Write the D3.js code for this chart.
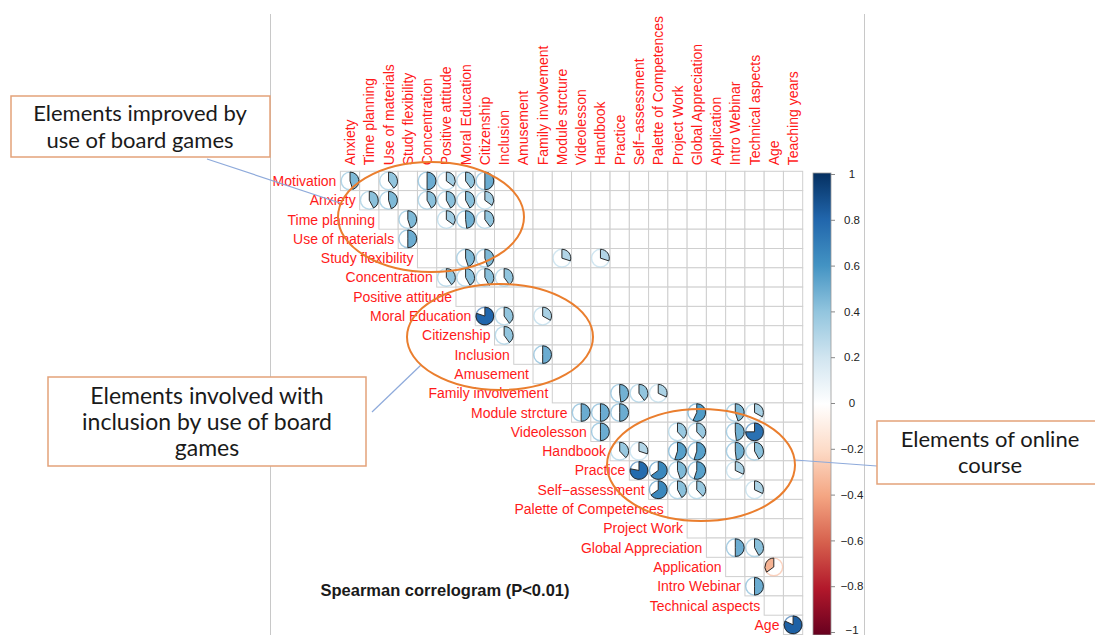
<!DOCTYPE html>
<html>
<head>
<meta charset="utf-8">
<script src="https://cdn.jsdelivr.net/npm/d3@7"></script>
<style>
  html, body { margin: 0; padding: 0; background: #fff; }
  svg { display: block; }
</style>
</head>
<body>
<svg id="chart" width="1095" height="635"></svg>
<script>
// ---------------- DATA ----------------
const rowVars = ["Motivation","Anxiety","Time planning","Use of materials","Study flexibility",
  "Concentration","Positive attitude","Moral Education","Citizenship","Inclusion","Amusement",
  "Family involvement","Module strcture","Videolesson","Handbook","Practice","Self\u2212assessment",
  "Palette of Competences","Project Work","Global Appreciation","Application","Intro Webinar",
  "Technical aspects","Age"];
const colVars = ["Anxiety","Time planning","Use of materials","Study flexibility","Concentration",
  "Positive attitude","Moral Education","Citizenship","Inclusion","Amusement","Family involvement",
  "Module strcture","Videolesson","Handbook","Practice","Self\u2212assessment","Palette of Competences",
  "Project Work","Global Appreciation","Application","Intro Webinar","Technical aspects","Age","Teaching years"];
// significant (P<0.01) Spearman correlations: [row, column, rho]
const sigPairs = [
  ["Motivation","Anxiety",0.45],["Motivation","Use of materials",0.40],["Motivation","Concentration",0.50],
  ["Motivation","Positive attitude",0.35],["Motivation","Moral Education",0.40],["Motivation","Citizenship",0.50],
  ["Anxiety","Time planning",0.42],["Anxiety","Use of materials",0.45],["Anxiety","Concentration",0.42],
  ["Anxiety","Positive attitude",0.42],["Anxiety","Moral Education",0.42],["Anxiety","Citizenship",0.35],
  ["Time planning","Study flexibility",0.45],["Time planning","Positive attitude",0.35],
  ["Time planning","Moral Education",0.48],["Time planning","Citizenship",0.40],
  ["Use of materials","Study flexibility",0.50],
  ["Study flexibility","Moral Education",0.45],["Study flexibility","Citizenship",0.45],
  ["Study flexibility","Module strcture",0.30],["Study flexibility","Handbook",0.30],
  ["Concentration","Positive attitude",0.40],["Concentration","Moral Education",0.42],
  ["Concentration","Citizenship",0.42],["Concentration","Inclusion",0.40],
  ["Moral Education","Citizenship",0.80],["Moral Education","Inclusion",0.40],["Moral Education","Family involvement",0.33],
  ["Citizenship","Inclusion",0.40],
  ["Inclusion","Family involvement",0.50],
  ["Family involvement","Practice",0.48],["Family involvement","Self\u2212assessment",0.40],
  ["Family involvement","Palette of Competences",0.32],
  ["Module strcture","Videolesson",0.50],["Module strcture","Handbook",0.50],["Module strcture","Practice",0.50],
  ["Module strcture","Global Appreciation",0.57],["Module strcture","Intro Webinar",0.45],
  ["Module strcture","Technical aspects",0.33],
  ["Videolesson","Handbook",0.50],["Videolesson","Project Work",0.38],["Videolesson","Global Appreciation",0.38],
  ["Videolesson","Intro Webinar",0.48],["Videolesson","Technical aspects",0.75],
  ["Handbook","Practice",0.38],["Handbook","Self\u2212assessment",0.30],["Handbook","Project Work",0.55],
  ["Handbook","Global Appreciation",0.55],["Handbook","Intro Webinar",0.48],["Handbook","Technical aspects",0.42],
  ["Practice","Self\u2212assessment",0.78],["Practice","Palette of Competences",0.65],["Practice","Project Work",0.45],
  ["Practice","Global Appreciation",0.55],["Practice","Intro Webinar",0.32],
  ["Self\u2212assessment","Palette of Competences",0.65],["Self\u2212assessment","Project Work",0.42],
  ["Self\u2212assessment","Global Appreciation",0.38],["Self\u2212assessment","Technical aspects",0.32],
  ["Global Appreciation","Intro Webinar",0.50],["Global Appreciation","Technical aspects",0.42],
  ["Application","Age",-0.35],
  ["Intro Webinar","Technical aspects",0.50],
  ["Age","Teaching years",0.82]
];
const legendTicks = [1,0.8,0.6,0.4,0.2,0,-0.2,-0.4,-0.6,-0.8,-1];
const paletteStops = [-1,-0.8,-0.6,-0.4,-0.2,0,0.2,0.4,0.6,0.8,1];
const paletteColors = ["#67001F","#B2182B","#D6604D","#F4A582","#FDDBC7","#FFFFFF",
  "#D1E5F0","#92C5DE","#4393C3","#2166AC","#053061"];
const title = "Spearman correlogram (P<0.01)";

// ---------------- DRAW ----------------
const svg = d3.select("#chart");
const gridLeft = 340.4, gridRight = 802.7, gridTop = 171.3, gridBottom = 634.5;
const x = d3.scaleBand().domain(colVars).range([gridLeft, gridRight]);
const y = d3.scaleBand().domain(rowVars).range([gridTop, gridBottom]);
const color = d3.scaleLinear().domain(paletteStops).range(paletteColors);
const cw = x.bandwidth(), ch = y.bandwidth();
const r = cw * 0.46;

// page frame lines
svg.append("line").attr("x1",270.5).attr("x2",270.5).attr("y1",14).attr("y2",635)
  .attr("stroke","#c8c8c8").attr("stroke-width",1);
svg.append("line").attr("x1",864.5).attr("x2",864.5).attr("y1",14).attr("y2",635)
  .attr("stroke","#c8c8c8").attr("stroke-width",1);

// grid cells (upper triangle)
const cells = [];
rowVars.forEach((rv, i) => {
  colVars.forEach((cv, j) => { if (j >= i) cells.push({rv, cv}); });
});
svg.append("g").selectAll("rect").data(cells).join("rect")
  .attr("x", d => x(d.cv)).attr("y", d => y(d.rv))
  .attr("width", cw).attr("height", ch)
  .attr("fill", "#fff").attr("stroke", "#cfcfcf").attr("stroke-width", 1);

// glyphs
const arc = d3.arc().innerRadius(0).outerRadius(r);
const glyph = svg.append("g").selectAll("g").data(sigPairs).join("g")
  .attr("transform", d => `translate(${x(d[1]) + cw/2},${y(d[0]) + ch/2})`);
glyph.append("circle").attr("r", r).attr("fill", "#fff")
  .attr("stroke", d => color(d[2])).attr("stroke-opacity", 0.6).attr("stroke-width", 1.4);
glyph.append("path")
  .attr("d", d => arc({startAngle: 0, endAngle: d[2] * 2 * Math.PI}))
  .attr("fill", d => color(d[2])).attr("stroke", "#2b2b2b").attr("stroke-width", 1);

// labels
const labelFont = "Arial, 'Liberation Sans', Helvetica, sans-serif";
svg.append("g").selectAll("text").data(rowVars).join("text")
  .attr("x", (d, i) => x(colVars[i]) - 4)
  .attr("y", d => y(d) + ch/2)
  .attr("dy", "0.36em")
  .attr("text-anchor", "end")
  .attr("font-family", labelFont).attr("font-size", 14).attr("fill", "#ff1a1a")
  .text(d => d);
svg.append("g").selectAll("text").data(colVars).join("text")
  .attr("transform", d => `translate(${x(d) + cw/2},${gridTop - 6}) rotate(-90)`)
  .attr("dy", "0.36em")
  .attr("text-anchor", "start")
  .attr("font-family", labelFont).attr("font-size", 14).attr("fill", "#ff1a1a")
  .text(d => d);

// color legend
const ly = d3.scaleLinear().domain([-1, 1]).range([632, 174]);
const defs = svg.append("defs");
const grad = defs.append("linearGradient").attr("id","cbar")
  .attr("x1",0).attr("x2",0).attr("y1",1).attr("y2",0);
paletteStops.forEach((s, k) => grad.append("stop")
  .attr("offset", ((s + 1) / 2 * 100) + "%").attr("stop-color", paletteColors[k]));
svg.append("rect").attr("x", 813).attr("y", 173).attr("width", 18).attr("height", 462)
  .attr("fill", "url(#cbar)").attr("stroke", "#999").attr("stroke-width", 0.8);
const legAxis = svg.append("g").attr("transform", "translate(831,0)")
  .call(d3.axisRight(ly).tickValues(legendTicks).tickSize(4).tickPadding(0)
    .tickFormat(d => d === 0 ? "0" : (d === 1 || d === -1) ? d3.format("d")(d) : d3.format(".1f")(d)));
legAxis.select(".domain").remove();
legAxis.selectAll("line").attr("stroke", "#888");
legAxis.selectAll("text").attr("x", 21).attr("text-anchor", "middle")
  .attr("font-family", labelFont).attr("font-size", 11.5).attr("fill", "#222");
legAxis.selectAll(".tick").filter(d => d === -1).select("text").attr("dy", "0.1em");

// title
svg.append("text").attr("x", 445).attr("y", 596).attr("text-anchor", "middle")
  .attr("font-family", labelFont).attr("font-weight", "bold").attr("font-size", 16.5)
  .attr("fill", "#1a1a1a").text(title);

// ---------------- ANNOTATIONS ----------------
const annFont = "Lato, 'Open Sans', sans-serif";
const boxes = [
  {x: 11, y: 96, w: 259, h: 61, fs: 22, cx: 140, lines: ["Elements improved by", "use of board games"], ly: [121, 148]},
  {x: 48, y: 377, w: 318, h: 89, fs: 23, cx: 207, lines: ["Elements involved with", "inclusion by use of board", "games"], ly: [404, 430, 456]},
  {x: 877, y: 421, w: 230, h: 63, fs: 22, cx: 990, lines: ["Elements of online", "course"], ly: [447, 473]}
];
const ellipses = [
  {cx: 431, cy: 217, rx: 93, ry: 55},
  {cx: 500, cy: 337, rx: 93, ry: 53},
  {cx: 701, cy: 465, rx: 94, ry: 56}
];
const connectors = [
  [207, 159, 340, 203],
  [372, 412, 421, 365],
  [795, 460, 877, 466]
];
svg.append("g").selectAll("line").data(connectors).join("line")
  .attr("x1", d => d[0]).attr("y1", d => d[1]).attr("x2", d => d[2]).attr("y2", d => d[3])
  .attr("stroke", "#8eaadb").attr("stroke-width", 1.2);
svg.append("g").selectAll("ellipse").data(ellipses).join("ellipse")
  .attr("cx", d => d.cx).attr("cy", d => d.cy).attr("rx", d => d.rx).attr("ry", d => d.ry)
  .attr("fill", "none").attr("stroke", "#ea7e2e").attr("stroke-width", 2);
const bg = svg.append("g").selectAll("g").data(boxes).join("g");
bg.append("rect").attr("x", d => d.x).attr("y", d => d.y).attr("width", d => d.w).attr("height", d => d.h)
  .attr("fill", "#fff").attr("stroke", "#e3a27a").attr("stroke-width", 1.5);
bg.each(function(d) {
  const g = d3.select(this);
  d.lines.forEach((t, k) => g.append("text")
    .attr("x", d.cx).attr("y", d.ly[k]).attr("text-anchor", "middle")
    .attr("font-family", annFont).attr("font-size", d.fs).attr("fill", "#1a1a1a").text(t));
});
</script>
</body>
</html>
